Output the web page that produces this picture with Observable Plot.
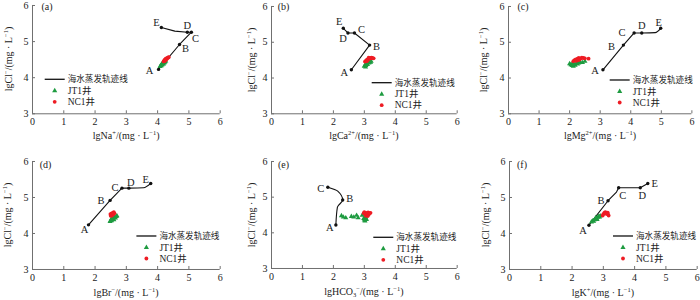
<!DOCTYPE html>
<html>
<head>
<meta charset="utf-8">
<script src="https://cdn.jsdelivr.net/npm/d3@7"></script>
<script src="https://cdn.jsdelivr.net/npm/@observablehq/plot@0.6"></script>
<style>
  body { margin: 0; background: #fff; }
  #root { position: relative; width: 700px; height: 300px; overflow: hidden;
          font-family: "Liberation Serif", "Times New Roman", "Noto Sans CJK SC", serif; color: #222; }
  .pn { position: absolute; }
  .lab { position: absolute; font-size: 10px; white-space: nowrap; line-height: 1; }
  .lab sup { font-size: 65%; vertical-align: 0.55em; line-height: 0; }
  .lab sub { font-size: 65%; vertical-align: -0.3em; line-height: 0; }
</style>
</head>
<body>
<div id="root"></div>
<script>
// ---------- data ----------
const xTicks = [0, 1, 2, 3, 4, 5, 6];
const yTicks = [3, 4, 5, 6];
const xDomain = [0, 6];
const yDomain = [3, 6];
const seriesNames = ["海水蒸发轨迹线", "JT1井", "NC1井"];

// seawater evaporation trajectory (lgCl- on y); "" = unlabeled vertex
const naX = [4.03, 4.70, 5.08, 4.95, 4.55, 4.12];
const naY = [4.23, 4.92, 5.26, 5.26, 5.29, 5.39];
const naL = ["A", "B", "C", "D", "", "E"];
const caX = [2.58, 3.17, 2.68, 2.47, 2.32];
const caY = [4.23, 4.92, 5.26, 5.26, 5.39];
const caL = ["A", "B", "C", "D", "E"];
const mgX = [3.09, 3.76, 4.11, 4.36, 4.80, 4.98];
const mgY = [4.23, 4.92, 5.26, 5.26, 5.27, 5.39];
const mgL = ["A", "B", "C", "D", "", "E"];
const brX = [1.79, 2.48, 2.86, 3.08, 3.55, 3.78];
const brY = [4.24, 4.92, 5.26, 5.26, 5.27, 5.39];
const brL = ["A", "B", "C", "D", "", "E"];
const hco3X = [2.08, 2.13, 2.30, 2.14, 1.82];
const hco3Y = [4.22, 4.72, 4.92, 5.17, 5.28];
const hco3L = ["A", "", "B", "", "C"];
const kX = [2.54, 3.15, 3.42, 3.49, 4.18, 4.42];
const kY = [4.23, 4.91, 5.15, 5.27, 5.27, 5.39];
const kL = ["A", "B", "", "C", "D", "E"];

// well samples [x, lgCl-]
const jtNa = [[4.08,4.31],[4.10,4.34],[4.12,4.33],[4.13,4.37],[4.15,4.36],[4.17,4.39],[4.19,4.38],[4.20,4.42],[4.22,4.41],[4.24,4.44],[4.26,4.46],[4.15,4.40]];
const ncNa = [[4.19,4.45],[4.21,4.47],[4.23,4.46],[4.25,4.49],[4.27,4.50],[4.29,4.52],[4.30,4.54],[4.32,4.55],[4.34,4.56],[4.26,4.53],[4.36,4.57],[4.23,4.50]];
const jtCa = [[3.00,4.33],[3.02,4.36],[3.05,4.35],[3.06,4.39],[3.08,4.41],[3.10,4.38],[3.12,4.43],[3.15,4.42],[3.18,4.45],[3.20,4.44],[3.22,4.47],[3.04,4.31]];
const ncCa = [[3.02,4.46],[3.05,4.48],[3.07,4.50],[3.10,4.52],[3.12,4.51],[3.15,4.54],[3.18,4.56],[3.20,4.55],[3.23,4.57],[3.26,4.56],[3.30,4.55],[3.08,4.47],[3.14,4.57]];
const jtMg = [[2.00,4.40],[2.04,4.37],[2.08,4.35],[2.12,4.33],[2.15,4.38],[2.18,4.36],[2.22,4.41],[2.26,4.39],[2.30,4.42],[2.35,4.44],[2.42,4.43],[2.50,4.47],[2.10,4.42]];
const ncMg = [[2.12,4.47],[2.16,4.50],[2.20,4.52],[2.22,4.48],[2.26,4.54],[2.30,4.56],[2.33,4.52],[2.37,4.55],[2.40,4.57],[2.45,4.56],[2.50,4.55],[2.62,4.54],[2.28,4.50]];
const jtBr = [[2.48,4.33],[2.50,4.36],[2.53,4.35],[2.55,4.39],[2.58,4.42],[2.60,4.38],[2.62,4.45],[2.65,4.43],[2.68,4.47],[2.70,4.49],[2.58,4.48],[2.52,4.40]];
const ncBr = [[2.50,4.49],[2.52,4.52],[2.54,4.50],[2.55,4.55],[2.57,4.57],[2.58,4.53],[2.60,4.59],[2.62,4.56],[2.53,4.56],[2.49,4.54]];
const jtHco3 = [[2.26,4.48],[2.32,4.44],[2.40,4.42],[2.58,4.46],[2.66,4.44],[2.75,4.49],[2.80,4.42],[2.93,4.49],[2.98,4.40],[3.02,4.33],[3.04,4.44],[3.07,4.37],[3.00,4.36],[3.05,4.40]];
const ncHco3 = [[2.98,4.55],[3.00,4.58],[3.03,4.52],[3.06,4.56],[3.08,4.50],[3.10,4.54],[3.12,4.57],[3.14,4.51],[3.17,4.55],[3.20,4.56],[3.05,4.48],[3.11,4.47]];
const jtK = [[2.62,4.32],[2.66,4.35],[2.69,4.34],[2.72,4.38],[2.75,4.40],[2.78,4.42],[2.80,4.39],[2.83,4.45],[2.85,4.47],[2.88,4.46],[2.90,4.49],[2.76,4.44]];
const ncK = [[2.98,4.50],[3.00,4.54],[3.03,4.57],[3.06,4.59],[3.09,4.58],[3.12,4.55],[3.15,4.53],[3.17,4.50],[3.08,4.55],[3.14,4.58]];

// ---------- layout & style ----------
const COL = { line: "#111", jt: "#1e9b40", nc: "#ee1c24", axis: "#6f6f6f", text: "#222" };
const FONT = '"Liberation Serif", "Times New Roman", "Noto Sans CJK SC", serif';
const M = { l: 30, r: 8, t: 6, b: 30 };
const yLabel = 'lgCl<sup>−</sup>/(mg · L<sup>−1</sup>)';

const panels = [
  { tag: "(a)", x: naX, y: naY, l: naL, jt: jtNa, nc: ncNa, curveFrom: null,
    xlab: 'lgNa<sup>+</sup>/(mg · L<sup>−1</sup>)', frame: [32.3, 5, 187.7, 108.3], xOff: 23, yOff: 23,
    tagPos: [15, 2], leg: [12.7, 74.3], off: { A: [-9, 1], B: [6, 4], C: [4, 6], D: [0, -7], E: [-5, -5] } },
  { tag: "(b)", x: caX, y: caY, l: caL, jt: jtCa, nc: ncCa, curveFrom: null,
    xlab: 'lgCa<sup>2+</sup>/(mg · L<sup>−1</sup>)', frame: [271, 6, 185.7, 107.3], xOff: 23, yOff: 19,
    tagPos: [12.5, 1], leg: [100.7, 76.7], off: { A: [-7, 3], B: [7, 2], C: [7, -3], D: [-5, 6], E: [-4, -7] } },
  { tag: "(c)", x: mgX, y: mgY, l: mgL, jt: jtMg, nc: ncMg, curveFrom: 3, curve: "monotone-x",
    xlab: 'lgMg<sup>2+</sup>/(mg · L<sup>−1</sup>)', frame: [508.3, 6, 183.4, 107.3], xOff: 23, yOff: 24,
    tagPos: [15, 1], leg: [101.7, 74], off: { A: [-8, 1], B: [-12, 2], C: [-12, 0], D: [0, -7], E: [-2, -6] } },
  { tag: "(d)", x: brX, y: brY, l: brL, jt: jtBr, nc: ncBr, curveFrom: 3, curve: "monotone-x",
    xlab: 'lgBr<sup>−</sup>/(mg · L<sup>−1</sup>)', frame: [32.3, 161, 187.7, 108], xOff: 24, yOff: 24,
    tagPos: [13.5, 4], leg: [104.4, 75], off: { A: [-4, 5], B: [-9, 0], C: [-7, -1], D: [2, -6], E: [-5, -4] } },
  { tag: "(e)", x: hco3X, y: hco3Y, l: hco3L, jt: jtHco3, nc: ncHco3, curveFrom: 0, curve: "monotone-y",
    xlab: 'lgHCO<sub>3</sub><sup>−</sup>/(mg · L<sup>−1</sup>)',
    frame: [271, 161, 185.7, 107], xOff: 24, yOff: 19,
    tagPos: [12.5, 4], leg: [102.3, 76.3], off: { A: [-6, 3], B: [7, -1], C: [-7, 1] } },
  { tag: "(f)", x: kX, y: kY, l: kL, jt: jtK, nc: ncK, curveFrom: null,
    xlab: 'lgK<sup>+</sup>/(mg · L<sup>−1</sup>)', frame: [509, 161, 187.7, 108], xOff: 24, yOff: 23,
    tagPos: [13, 4], leg: [104, 75], off: { A: [-6, 5], B: [-7, 0], C: [4, 8], D: [2, 8], E: [7, 0] } }
];

const root = document.getElementById("root");

function draw(p) {
  const [fl, ft, fw, fh] = p.frame;
  const traj = p.x.map((x, i) => ({ x, y: p.y[i], label: p.l[i] }));
  const labeled = traj.filter(d => d.label);
  const jt = p.jt.map(([x, y]) => ({ x, y }));
  const nc = p.nc.map(([x, y]) => ({ x, y }));
  const lineOpts = { x: "x", y: "y", stroke: COL.line, strokeWidth: 1.1 };

  const marks = [
    Plot.ruleX([xDomain[0]], { stroke: COL.axis, strokeWidth: 1 }),
    Plot.ruleY([yDomain[0]], { stroke: COL.axis, strokeWidth: 1 }),
    Plot.axisX({ ticks: xTicks, tickFormat: d => String(d), tickSize: -3, tickPadding: 7, stroke: COL.axis, fill: COL.text, label: null, fontSize: 10 }),
    Plot.axisY({ ticks: yTicks, tickFormat: d => String(d), tickSize: -3, tickPadding: 7, stroke: COL.axis, fill: COL.text, label: null, fontSize: 10 })
  ];
  if (p.curveFrom == null) {
    marks.push(Plot.line(traj, lineOpts));
  } else {
    if (p.curveFrom > 0) marks.push(Plot.line(traj.slice(0, p.curveFrom + 1), lineOpts));
    marks.push(Plot.line(traj.slice(p.curveFrom), { ...lineOpts, curve: p.curve }));
  }
  marks.push(
    Plot.dot(jt, { x: "x", y: "y", symbol: "triangle", r: 1.9, fill: COL.jt, stroke: "none" }),
    Plot.dot(nc, { x: "x", y: "y", symbol: "circle", r: 1.9, fill: COL.nc, stroke: "none" }),
    Plot.dot(labeled, { x: "x", y: "y", r: 1.7, fill: COL.line, stroke: "none" })
  );
  labeled.forEach(d => {
    const o = p.off[d.label];
    marks.push(Plot.text([d], { x: "x", y: "y", text: "label", dx: o[0], dy: o[1], fontSize: 10.5, fill: COL.text }));
  });

  const svg = Plot.plot({
    width: M.l + fw + M.r, height: M.t + fh + M.b,
    marginLeft: M.l, marginRight: M.r, marginTop: M.t, marginBottom: M.b,
    x: { domain: xDomain, label: null },
    y: { domain: yDomain, label: null },
    style: { fontFamily: FONT, fontSize: "10px", color: COL.text, background: "transparent", overflow: "visible" },
    marks
  });
  svg.classList.add("pn");
  svg.style.left = (fl - M.l) + "px";
  svg.style.top = (ft - M.t) + "px";
  svg.style.maxWidth = "none";
  root.appendChild(svg);

  // panel tag and legend drawn inside the frame
  const g = d3.select(svg).append("g").attr("transform", `translate(${M.l},${M.t})`)
    .attr("font-family", FONT).attr("fill", COL.text).attr("text-anchor", "start");
  g.append("text").attr("x", p.tagPos[0]).attr("y", p.tagPos[1]).attr("dy", "0.35em")
    .attr("text-anchor", "middle").attr("font-size", 10).text(p.tag);
  const [lx, ly] = p.leg;
  const mx = lx + 10, tx = lx + 23;
  g.append("line").attr("x1", lx).attr("x2", lx + 20).attr("y1", ly).attr("y2", ly)
    .attr("stroke", COL.line).attr("stroke-width", 1.3);
  g.append("path").attr("transform", `translate(${mx},${ly + 11.5})`)
    .attr("d", d3.symbol(d3.symbolTriangle, 1.9 * 1.9 * Math.PI)()).attr("fill", COL.jt);
  g.append("circle").attr("cx", mx).attr("cy", ly + 22.5).attr("r", 1.9).attr("fill", COL.nc);
  [0, 11.5, 22.5].forEach((dy, i) => {
    g.append("text").attr("x", tx).attr("y", ly + dy).attr("dy", "0.35em")
      .attr("text-anchor", "start")
      .attr("font-size", i === 0 ? 8.6 : 9.5).text(seriesNames[i]);
  });

  // axis titles
  const xl = document.createElement("div");
  xl.className = "lab";
  xl.innerHTML = p.xlab;
  xl.style.left = (fl + fw / 2) + "px";
  xl.style.top = (ft + fh + p.xOff) + "px";
  xl.style.transform = "translate(-50%,-50%)";
  root.appendChild(xl);
  const yl = document.createElement("div");
  yl.className = "lab";
  yl.innerHTML = yLabel;
  yl.style.left = (fl - p.yOff) + "px";
  yl.style.top = (ft + fh / 2) + "px";
  yl.style.transform = "translate(-50%,-50%) rotate(-90deg)";
  root.appendChild(yl);
}

panels.forEach(draw);
</script>
</body>
</html>
